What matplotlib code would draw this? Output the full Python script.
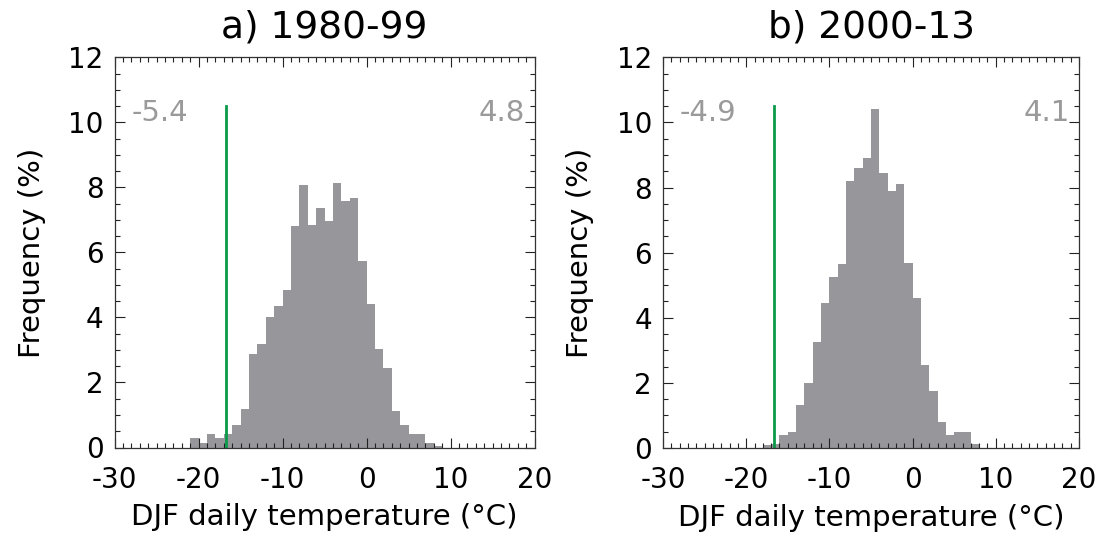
import numpy as np
import matplotlib.pyplot as plt
from matplotlib.ticker import MultipleLocator

plt.rcParams['font.family'] = ['DejaVu Sans']
plt.rcParams['axes.unicode_minus'] = False

# bin left edges (degC, 1 degree bins) and frequencies (%)
edges_a = list(range(-21, 9))
freq_a = [0.29, 0.13, 0.40, 0.29, 0.40, 0.68, 1.17, 2.87, 3.18, 4.01,
          4.34, 4.83, 6.81, 8.07, 6.84, 7.36, 6.96, 8.13, 7.58, 7.67,
          5.74, 4.40, 3.02, 2.46, 1.11, 0.68, 0.40, 0.40, 0.13, 0.06]

edges_b = list(range(-18, 8))
freq_b = [0.10, 0.12, 0.41, 0.50, 1.31, 2.00, 3.27, 4.46, 5.26, 5.66,
          8.20, 8.59, 8.90, 10.40, 8.44, 7.90, 8.10, 5.68, 4.62, 2.56,
          1.76, 0.81, 0.40, 0.50, 0.50, 0.11]

titles = ["a) 1980-99", "b) 2000-13"]
left_text = ["-5.4", "-4.9"]
right_text = ["4.8", "4.1"]
threshold = -16.7
line_top = 10.5

W, H = 1109, 538
fig = plt.figure(figsize=(W / 100, H / 100), dpi=100)

# axes boxes in pixels: left, right, top, bottom
boxes = [(114.5, 534.5, 57.3, 447.5), (663, 1079, 57.3, 448)]

bar_color = "#97979b"
green = "#0a9a4a"
gray_txt = "#9a9a9a"

for i, (edges, freq) in enumerate([(edges_a, freq_a), (edges_b, freq_b)]):
    l, r, t, b = boxes[i]
    ax = fig.add_axes([l / W, 1 - b / H, (r - l) / W, (b - t) / H])
    ax.bar(edges, freq, width=1.0, align="edge", color=bar_color, linewidth=0)
    ax.plot([threshold, threshold], [0, line_top], color=green, linewidth=2)
    ax.set_xlim(-30, 20)
    ax.set_ylim(0, 12)
    ax.xaxis.set_major_locator(MultipleLocator(10))
    ax.xaxis.set_minor_locator(MultipleLocator(1))
    ax.yaxis.set_major_locator(MultipleLocator(2))
    ax.yaxis.set_minor_locator(MultipleLocator(0.5))
    ax.tick_params(which="both", direction="in", top=True, right=True,
                   labelsize=20, width=0.8, color="#222222")
    ax.tick_params(which="major", length=7)
    ax.tick_params(which="minor", length=3.5)
    ax.tick_params(axis="x", which="major", pad=13)
    ax.tick_params(axis="y", which="major", pad=8)
    for s in ax.spines.values():
        s.set_linewidth(0.9)
        s.set_color("#333333")
    ax.set_title(titles[i], fontsize=27, pad=14)
    ax.set_xlabel("DJF daily temperature (\u00b0C)", fontsize=21, labelpad=7)
    ax.set_ylabel("Frequency (%)", fontsize=21, labelpad=16)
    ax.text(-28.0, 10.3, left_text[i], color=gray_txt, fontsize=21,
            ha="left", va="center")
    ax.text(18.9, 10.3, right_text[i], color=gray_txt, fontsize=21,
            ha="right", va="center")

plt.savefig("out.png", dpi=100)
